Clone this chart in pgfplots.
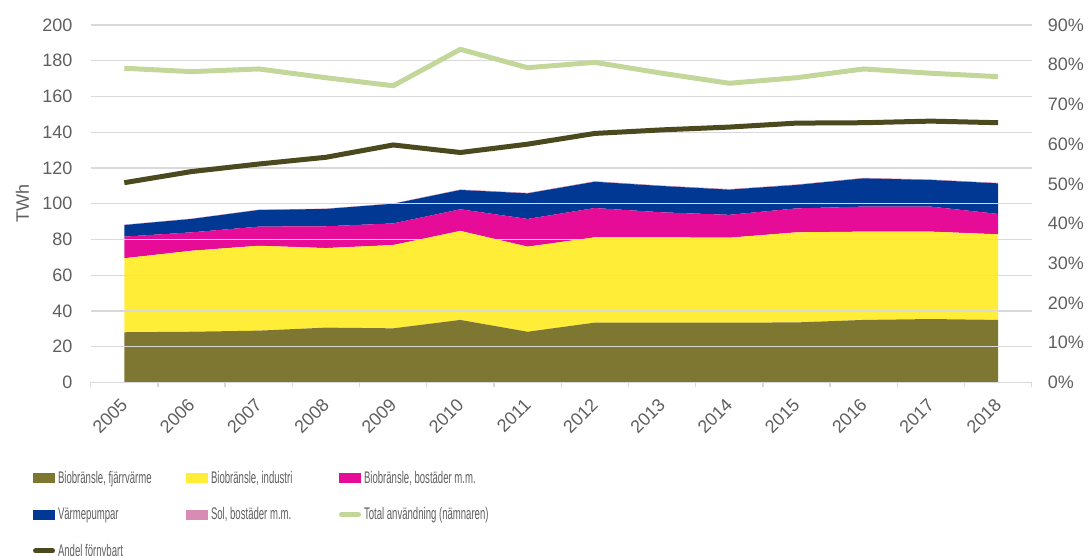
\documentclass[border=0pt]{standalone}
\usepackage{fontspec}
\setmainfont{Liberation Sans}
\newfontfamily\legfont[FakeStretch=0.57]{Liberation Sans}
\usepackage{pgfplots}
\pgfplotsset{compat=1.18}
\usepackage{pgfplotstable}
\definecolor{cfj}{HTML}{7E7731}
\definecolor{cind}{HTML}{FFED38}
\definecolor{cbos}{HTML}{E60C98}
\definecolor{cvp}{HTML}{003893}
\definecolor{csol}{HTML}{D98CB3}
\definecolor{ctot}{HTML}{C4D79B}
\definecolor{cand}{HTML}{4B4A1E}
\definecolor{gridgray}{HTML}{D9D9D9}
\definecolor{tickgray}{HTML}{5F5F5F}
\pgfplotsset{/pgf/number format/assume math mode=true}

\pgfplotstableread{
x F Y M V S
0 28.1 41.4 12.1 6.5 0.2
1 28.4 45.3 10.3 7.5 0.2
2 29.0 47.5 10.7 9.3 0.2
3 30.7 44.5 12.2 9.7 0.2
4 30.3 46.6 12.1 11.0 0.2
5 35.0 49.8 12.1 10.8 0.3
6 28.4 47.6 15.5 14.3 0.3
7 33.5 47.7 16.4 14.7 0.3
8 33.5 47.7 14.0 14.7 0.3
9 33.5 47.5 12.8 14.1 0.3
10 33.6 50.4 13.4 13.1 0.3
11 35.0 49.4 14.0 15.8 0.3
12 35.5 48.9 14.0 14.9 0.3
13 35.0 47.9 11.4 17.1 0.3
}\stackdata

\pgfplotstableread{
x T A
0 175.8 50.3
1 173.9 53.1
2 175.4 55.0
3 170.5 56.7
4 166.0 59.8
5 186.4 57.9
6 176.1 60.0
7 179.1 62.7
8 173.0 63.6
9 167.4 64.3
10 170.5 65.3
11 175.4 65.4
12 173.0 65.8
13 171.1 65.4
}\linedata

\newcommand\lt[1]{\makebox[128pt][l]{\rule[-2pt]{0pt}{14pt}#1}}

\pgfplotsset{
  base/.style={
    at={(90.7pt,173.5pt)}, anchor=south west,
    width=941pt, height=357.5pt, scale only axis,
    xmin=-0.5, xmax=13.5,
    tick label style={font=\fontsize{18}{20}\selectfont, text=tickgray},
    major tick length=0pt,
  }
}

\begin{document}
\begin{tikzpicture}
\begin{axis}[base,
  ymin=0, ymax=200,
  stack plots=y, area style,
  axis x line*=bottom, axis y line*=left,
  y axis line style={draw=none},
  x axis line style={gridgray, line width=1.3pt, -},
  ytick={0,20,...,200},
  ymajorgrids, grid style={gridgray, line width=1.3pt},
  xtick={0,...,13},
  xticklabels={2005,2006,2007,2008,2009,2010,2011,2012,2013,2014,2015,2016,2017,2018},
  minor xtick={-0.5,0.5,...,13.5},
  minor tick length=5pt, tick align=outside,
  minor x tick style={gridgray, line width=1.3pt},
  yticklabel style={anchor=east, inner sep=0pt, xshift=-18pt},
  xticklabel style={yshift=-19pt, rotate=45, anchor=east, inner sep=0pt},
  ylabel={TWh},
  ylabel style={at={(axis description cs:0,0.5)}, anchor=base, yshift=61.7pt,
    font=\fontsize{18}{20}\selectfont, text=tickgray},
]
\addplot[fill=cfj, draw=none] table[x=x,y=F]{\stackdata} \closedcycle;
\addplot[fill=cind, draw=none] table[x=x,y=Y]{\stackdata} \closedcycle;
\addplot[fill=cbos, draw=none] table[x=x,y=M]{\stackdata} \closedcycle;
\addplot[fill=cvp, draw=none] table[x=x,y=V]{\stackdata} \closedcycle;
\addplot[fill=csol, draw=none] table[x=x,y=S]{\stackdata} \closedcycle;
\end{axis}

\begin{axis}[base, ymin=0, ymax=200, hide axis]
\addplot[ctot, line width=5pt, line join=round, mark=none] table[x=x,y=T]{\linedata};
\end{axis}

\begin{axis}[base, ymin=0, ymax=90,
  axis x line=none, axis y line*=right,
  y axis line style={draw=none},
  ytick={0,10,...,90},
  yticklabel={\pgfmathprintnumber{\tick}\%},
  yticklabel style={anchor=west, inner sep=0pt, xshift=16pt},
  legend columns=3,
  legend cell align=left,
  legend style={draw=none, fill=none, inner sep=0pt, outer sep=0pt,
    at={(axis description cs:-0.0613,-0.2484)}, anchor=north west,
    font=\legfont\fontsize{16.8}{18}\selectfont, text=tickgray,
    nodes={inner sep=0pt}, column sep=0pt, row sep=22.7pt,
    /tikz/every odd column/.append style={column sep=3pt}},
]
\addlegendimage{legend image code/.code={\path[draw=none,fill=none] (0pt,-6pt) rectangle (22pt,6pt); \fill[cfj,draw=none] (0pt,-5pt) rectangle (22pt,5pt);}}
\addlegendentry{\lt{Biobränsle, fjärrvärme}}
\addlegendimage{legend image code/.code={\path[draw=none,fill=none] (0pt,-6pt) rectangle (22pt,6pt); \fill[cind,draw=none] (0pt,-5pt) rectangle (22pt,5pt);}}
\addlegendentry{\lt{Biobränsle, industri}}
\addlegendimage{legend image code/.code={\path[draw=none,fill=none] (0pt,-6pt) rectangle (22pt,6pt); \fill[cbos,draw=none] (0pt,-5pt) rectangle (22pt,5pt);}}
\addlegendentry{\lt{Biobränsle, bostäder m.m.}}
\addlegendimage{legend image code/.code={\path[draw=none,fill=none] (0pt,-6pt) rectangle (22pt,6pt); \fill[cvp,draw=none] (0pt,-5pt) rectangle (22pt,5pt);}}
\addlegendentry{\lt{Värmepumpar}}
\addlegendimage{legend image code/.code={\path[draw=none,fill=none] (0pt,-6pt) rectangle (22pt,6pt); \fill[csol,draw=none] (0pt,-5pt) rectangle (22pt,5pt);}}
\addlegendentry{\lt{Sol, bostäder m.m.}}
\addlegendimage{legend image code/.code={\path[draw=none,fill=none] (0pt,-6pt) rectangle (22pt,6pt); \draw[ctot, fill=none, line width=5pt, line cap=round] (2.5pt,0pt) -- (19.5pt,0pt);}}
\addlegendentry{\lt{Total användning (nämnaren)}}
\addlegendimage{legend image code/.code={\path[draw=none,fill=none] (0pt,-6pt) rectangle (22pt,6pt); \draw[cand, fill=none, line width=5pt, line cap=round] (2.5pt,0pt) -- (19.5pt,0pt);}}
\addlegendentry{\lt{Andel förnybart}}
\addplot[cand, line width=5pt, line join=round, mark=none, forget plot] table[x=x,y=A]{\linedata};
\end{axis}
\pgfresetboundingbox
\path[use as bounding box] (0pt,0pt) rectangle (1091pt,556pt);
\end{tikzpicture}
\end{document}
